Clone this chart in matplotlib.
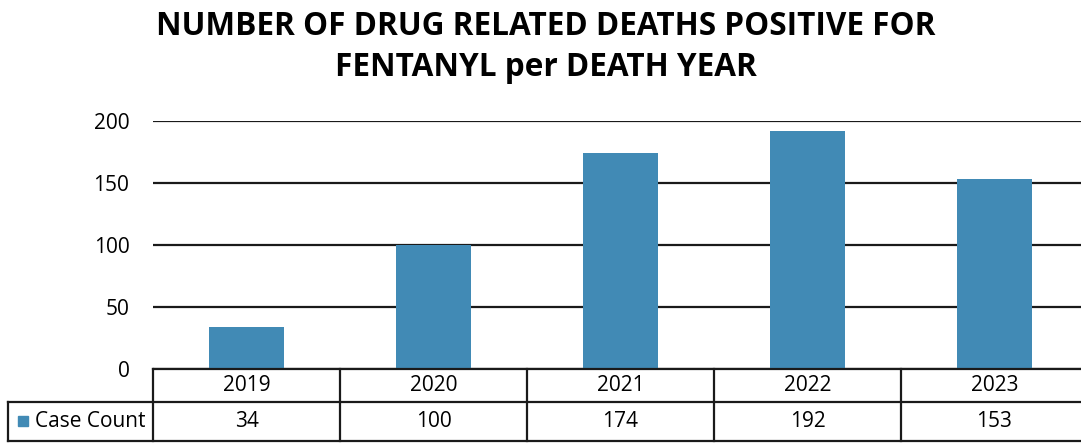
import matplotlib.pyplot as plt
from matplotlib.patches import Rectangle

years = ['2019', '2020', '2021', '2022', '2023']
case_counts = [34, 100, 174, 192, 153]
yticks = [0, 50, 100, 150, 200]
series_name = 'Case Count'
title = 'NUMBER OF DRUG RELATED DEATHS POSITIVE FOR\nFENTANYL per DEATH YEAR'

bar_color = '#418AB5'
font = 'Open Sans'

W, H = 1081, 444
fig = plt.figure(figsize=(W / 100, H / 100), dpi=100, facecolor='white')

# plot area in pixel coords of the reference
x0, x1 = 153, 1088
y_zero, y_top = 369, 121
ax = fig.add_axes([x0 / W, (H - y_zero) / H, (x1 - x0) / W, (y_zero - y_top) / H])

xs = range(len(years))
ax.bar(xs, case_counts, width=0.4, color=bar_color, zorder=3)
ax.set_xlim(-0.5, len(years) - 0.5)
ax.set_ylim(0, 200)
ax.set_yticks(yticks)
ax.set_yticklabels([str(v) for v in yticks], fontsize=15, family=font)
ax.tick_params(axis='y', length=0, pad=17)
ax.set_xticks([])
ax.yaxis.grid(True, color='#1a1a1a', linewidth=1.6, zorder=0)
for s in ax.spines.values():
    s.set_visible(False)

fig.text(0.505, 0.978, title, ha='center', va='top', fontsize=22.7,
         fontweight='bold', family=font, linespacing=1.32)

# data table below the plot area
def fx(px):
    return px / W

def fy(py):
    return 1 - py / H

row1_top, row1_bot, row2_bot = 369, 402, 441
col_w = (x1 - x0) / len(years)
lw = 1.6
lc = '#1a1a1a'

def hline(xa, xb, y):
    fig.add_artist(plt.Line2D([fx(xa), fx(xb)], [fy(y), fy(y)], color=lc, lw=lw))

def vline(x, ya, yb):
    fig.add_artist(plt.Line2D([fx(x), fx(x)], [fy(ya), fy(yb)], color=lc, lw=lw))

hline(x0, x1, row1_top)
hline(8, x1, row1_bot)
hline(8, x1, row2_bot)
vline(8, row1_bot, row2_bot)
for i in range(len(years) + 1):
    vline(x0 + i * col_w, row1_top, row2_bot)

for i, (yr, v) in enumerate(zip(years, case_counts)):
    cx = x0 + (i + 0.5) * col_w
    fig.text(fx(cx), fy((row1_top + row1_bot) / 2), yr, ha='center', va='center',
             fontsize=15, family=font)
    fig.text(fx(cx), fy((row1_bot + row2_bot) / 2), str(v), ha='center', va='center',
             fontsize=15, family=font)

fig.add_artist(Rectangle((fx(18), fy(426)), fx(10), 10 / H, color=bar_color,
                         transform=fig.transFigure))
fig.text(fx(35), fy((row1_bot + row2_bot) / 2), series_name, ha='left', va='center',
         fontsize=15, family=font)

fig.savefig('out.png', dpi=100, facecolor='white')
